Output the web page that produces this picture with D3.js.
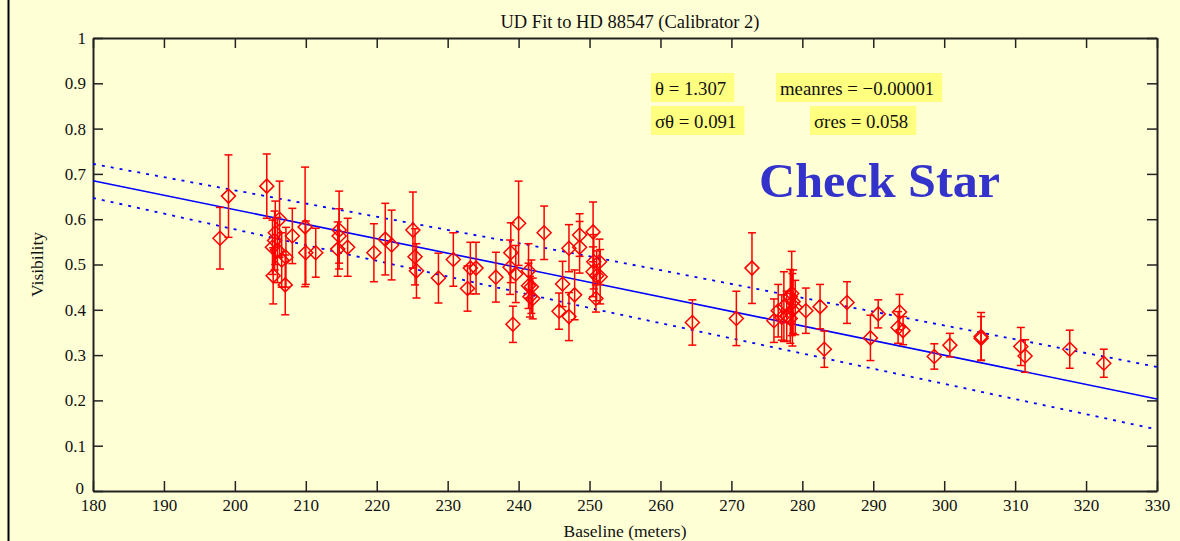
<!DOCTYPE html>
<html>
<head>
<meta charset="utf-8">
<script src="https://cdn.jsdelivr.net/npm/d3@7"></script>
<style>
  html, body { margin: 0; padding: 0; background: #ffffd6; }
  svg { display: block; }
  text { font-family: "Liberation Serif", "Times New Roman", serif; }
</style>
</head>
<body>
<svg id="chart" width="1180" height="541"></svg>
<script>
// ---- data ----
const baseline = [197.9,199.1,204.5,206.3,205.7,205.6,205.3,206.0,206.6,207.2,205.4,207.1,208.1,209.9,210.0,211.4,214.7,214.7,214.5,215.9,
  219.6,221.2,222.1,225.1,225.4,225.6,228.7,230.8,232.8,233.2,234.0,236.8,238.9,238.8,240.0,239.6,239.2,241.4,241.8,241.6,
  242.0,241.4,243.6,246.2,245.7,247.1,247.1,247.9,248.6,248.6,250.5,250.6,251.0,250.9,251.4,250.5,251.5,264.5,270.7,272.9,
  276.0,276.6,277.1,277.4,277.8,278.3,278.5,278.7,278.6,279.0,278.3,280.5,282.5,283.1,286.3,289.6,290.7,293.7,293.5,294.2,
  298.6,300.8,305.2,305.2,310.8,311.4,317.7,322.5];
const visibility = [0.558,0.651,0.673,0.600,0.570,0.553,0.538,0.532,0.510,0.516,0.475,0.455,0.563,0.583,0.526,0.526,0.576,0.563,0.534,0.538,
  0.526,0.556,0.543,0.576,0.517,0.486,0.470,0.511,0.447,0.492,0.492,0.472,0.526,0.494,0.591,0.479,0.368,0.453,0.451,0.429,
  0.425,0.486,0.570,0.457,0.397,0.385,0.536,0.433,0.565,0.538,0.572,0.506,0.475,0.425,0.506,0.484,0.473,0.372,0.381,0.492,
  0.376,0.398,0.383,0.407,0.386,0.429,0.436,0.418,0.400,0.405,0.381,0.398,0.407,0.313,0.416,0.338,0.391,0.395,0.361,0.354,
  0.297,0.322,0.341,0.337,0.319,0.298,0.313,0.282];
const visError = [0.068,0.091,0.071,0.084,0.070,0.065,0.060,0.072,0.060,0.066,0.062,0.066,0.061,0.132,0.070,0.054,0.086,0.060,0.060,0.064,
  0.064,0.079,0.077,0.084,0.062,0.060,0.055,0.059,0.050,0.057,0.057,0.055,0.066,0.060,0.093,0.063,0.040,0.050,0.059,0.045,
  0.045,0.060,0.059,0.050,0.040,0.053,0.052,0.055,0.047,0.057,0.066,0.060,0.055,0.030,0.050,0.055,0.060,0.050,0.060,0.078,
  0.048,0.058,0.050,0.077,0.055,0.060,0.093,0.070,0.080,0.060,0.055,0.050,0.049,0.040,0.046,0.050,0.031,0.039,0.035,0.031,
  0.028,0.026,0.053,0.048,0.042,0.036,0.042,0.031];

// fitted uniform-disk curve and its ±1σ bounds (read at a few baselines)
const fitBaseline = [180, 250, 330];
const fitVis      = [0.685, 0.461, 0.203];
const fitUpper    = [0.722, 0.518, 0.274];
const fitLower    = [0.647, 0.404, 0.136];

const xTicks = [180,190,200,210,220,230,240,250,260,270,280,290,300,310,320,330];
const yTicks = [0,0.1,0.2,0.3,0.4,0.5,0.6,0.7,0.8,0.9,1];

const titleText = "UD Fit to HD 88547 (Calibrator 2)";
const xLabel = "Baseline (meters)";
const yLabel = "Visibility";
const statRows = [
  ["θ = 1.307", "meanres = \u22120.00001"],
  ["σθ = 0.091", "σres = 0.058"]
];
const stampText = "Check Star";

// ---- drawing ----
const svg = d3.select("#chart");
const W = 1180, H = 541;
const m = {left: 93, right: 1157, top: 38, bottom: 491};

svg.append("rect").attr("width", W).attr("height", H).attr("fill", "#ffffd6");
// left border line of the figure
svg.append("line").attr("x1", 8.5).attr("x2", 8.5).attr("y1", 0).attr("y2", H)
  .attr("stroke", "#000").attr("stroke-width", 2);

const x = d3.scaleLinear().domain([180, 330]).range([m.left, m.right]);
const y = d3.scaleLinear().domain([0, 1]).range([m.bottom, m.top]);

// axes (ticks inside, box on all sides)
const tickLen = 10;
const axisColor = "#222";
const gB = svg.append("g").attr("transform", `translate(0,${m.bottom})`)
  .call(d3.axisBottom(x).tickValues(xTicks).tickSizeInner(-tickLen).tickSizeOuter(0).tickPadding(8).tickFormat(d3.format("d")));
const gT = svg.append("g").attr("transform", `translate(0,${m.top})`)
  .call(d3.axisTop(x).tickValues(xTicks).tickSizeInner(-tickLen).tickSizeOuter(0).tickFormat(""));
const gL = svg.append("g").attr("transform", `translate(${m.left},0)`)
  .call(d3.axisLeft(y).tickValues(yTicks).tickSizeInner(-tickLen).tickSizeOuter(0).tickPadding(7).tickFormat(d => d === 0 ? "0" : (d === 1 ? "1" : d3.format(".1f")(d))));
const gR = svg.append("g").attr("transform", `translate(${m.right},0)`)
  .call(d3.axisRight(y).tickValues(yTicks).tickSizeInner(-tickLen).tickSizeOuter(0).tickFormat(""));
[gB, gT, gL, gR].forEach(g => {
  g.select(".domain").attr("stroke", axisColor).attr("stroke-width", 2);
  g.selectAll(".tick line").attr("stroke", axisColor).attr("stroke-width", 1.5);
  g.selectAll("text").attr("fill", "#111").style("font-family", "Liberation Serif, serif").style("font-size", "17px");
});
gB.selectAll(".tick text").attr("dy", "0.71em");
// the "0" label of y sits slightly higher/left like the reference
gL.selectAll(".tick text").filter(d => d === 0).attr("dy", "0.15em").attr("x", -9);

// fit curves
const line = d3.line().x(d => x(d[0])).y(d => y(d[1]));
const plot = svg.append("g");
plot.append("path").datum(fitBaseline.map((b, i) => [b, fitUpper[i]]))
  .attr("d", line).attr("fill", "none").attr("stroke", "#0000ff").attr("stroke-width", 1.8).attr("stroke-dasharray", "3,6");
plot.append("path").datum(fitBaseline.map((b, i) => [b, fitLower[i]]))
  .attr("d", line).attr("fill", "none").attr("stroke", "#0000ff").attr("stroke-width", 1.8).attr("stroke-dasharray", "3,6");
plot.append("path").datum(fitBaseline.map((b, i) => [b, fitVis[i]]))
  .attr("d", line).attr("fill", "none").attr("stroke", "#0000ff").attr("stroke-width", 1.6);

// data points with error bars
const pts = baseline.map((b, i) => ({b, v: visibility[i], e: visError[i]}));
const red = "#ff0000";
const cap = 4, dH = 7;
const gp = plot.append("g").attr("stroke", red).attr("fill", "none").attr("stroke-width", 1.5);
const eg = gp.selectAll("g.pt").data(pts).join("g").attr("class", "pt");
eg.append("line").attr("x1", d => x(d.b)).attr("x2", d => x(d.b))
  .attr("y1", d => y(d.v + d.e)).attr("y2", d => y(d.v - d.e));
eg.append("line").attr("x1", d => x(d.b) - cap).attr("x2", d => x(d.b) + cap)
  .attr("y1", d => y(d.v + d.e)).attr("y2", d => y(d.v + d.e));
eg.append("line").attr("x1", d => x(d.b) - cap).attr("x2", d => x(d.b) + cap)
  .attr("y1", d => y(d.v - d.e)).attr("y2", d => y(d.v - d.e));
eg.append("path").attr("d", d => {
  const cx = x(d.b), cy = y(d.v);
  return `M${cx},${cy - dH}L${cx + dH},${cy}L${cx},${cy + dH}L${cx - dH},${cy}Z`;
});

// title and axis labels
svg.append("text").attr("x", (m.left + m.right) / 2 + 5).attr("y", 28).attr("text-anchor", "middle")
  .style("font-size", "18.5px").attr("fill", "#111").text(titleText);
svg.append("text").attr("x", (m.left + m.right) / 2).attr("y", 537).attr("text-anchor", "middle")
  .style("font-size", "17.5px").attr("fill", "#111").text(xLabel);
svg.append("text").attr("transform", `translate(43,${(m.top + m.bottom) / 2}) rotate(-90)`).attr("text-anchor", "middle")
  .style("font-size", "17.5px").attr("fill", "#111").text(yLabel);

// statistics boxes
const statX = [[655, 780], [655, 814]];
const statY = [95, 128];
statRows.forEach((row, r) => {
  row.forEach((s, c) => {
    const g = svg.append("g");
    const rect = g.append("rect").attr("fill", "#ffff80");
    const t = g.append("text").attr("x", statX[r][c]).attr("y", statY[r])
      .style("font-size", "18.8px").attr("fill", "#111").text(s);
    const bb = t.node().getBBox();
    rect.attr("x", bb.x - 4).attr("y", statY[r] - 22).attr("width", bb.width + 12).attr("height", 29);
  });
});

// stamp
svg.append("text").attr("x", 759).attr("y", 197).style("font-size", "48px").style("font-weight", "bold")
  .attr("textLength", 241).attr("lengthAdjust", "spacingAndGlyphs")
  .attr("fill", "#3333cc").text(stampText);
</script>
</body>
</html>
